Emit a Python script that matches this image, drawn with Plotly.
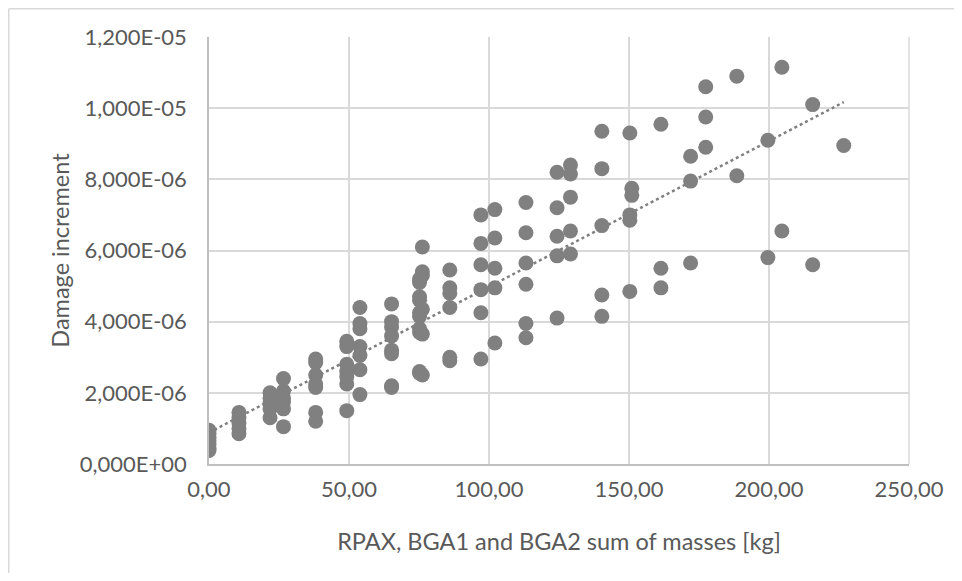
import numpy as np
import plotly.graph_objects as go

# Data (x: kg, y: damage increment in units of 1e-6)
col_x = [0.0, 10.7, 21.8, 26.6, 38.1, 49.2, 53.9, 65.2, 75.2, 76.2, 86.0, 97.1, 102.1,
         113.2, 124.3, 129.1, 140.3, 150.3, 151.0, 161.4, 172.0, 177.4, 188.5, 199.6,
         204.6, 215.6, 226.7]
col_y = [
    [0.95, 0.85, 0.75, 0.65, 0.55, 0.45, 0.38],
    [1.45, 1.3, 1.15, 1.0, 0.85],
    [2.0, 1.85, 1.7, 1.55, 1.3],
    [2.4, 2.05, 1.85, 1.75, 1.55, 1.05],
    [2.95, 2.85, 2.5, 2.25, 2.15, 1.45, 1.2],
    [3.45, 3.3, 2.8, 2.6, 2.45, 2.25, 1.5],
    [4.4, 3.95, 3.8, 3.3, 3.05, 2.65, 1.95],
    [4.5, 4.0, 3.85, 3.6, 3.2, 3.1, 2.2, 2.15],
    [5.2, 5.1, 4.7, 4.6, 4.25, 4.15, 3.8, 3.7, 2.6, 2.55],
    [6.1, 5.4, 5.3, 4.35, 3.65, 2.5],
    [5.45, 4.95, 4.8, 4.4, 3.0, 2.9],
    [7.0, 6.2, 5.6, 4.9, 4.25, 2.95],
    [7.15, 6.35, 5.5, 4.95, 3.4],
    [7.35, 6.5, 5.65, 5.05, 3.95, 3.55],
    [8.2, 7.2, 6.4, 5.85, 4.1],
    [8.4, 8.15, 7.5, 6.55, 5.9],
    [9.35, 8.3, 6.7, 4.75, 4.15],
    [9.3, 7.0, 6.85, 4.85],
    [7.75, 7.55],
    [9.55, 5.5, 4.95],
    [8.65, 7.95, 5.65],
    [10.6, 9.75, 8.9],
    [10.9, 8.1],
    [9.1, 5.8],
    [11.15, 6.55],
    [10.1, 5.6],
    [8.95],
]

y_tick_vals = [0, 2e-6, 4e-6, 6e-6, 8e-6, 1e-5, 1.2e-5]
y_tick_text = ["0,000E+00", "2,000E-06", "4,000E-06", "6,000E-06", "8,000E-06", "1,000E-05", "1,200E-05"]
x_tick_vals = [0, 50, 100, 150, 200, 250]
x_tick_text = ["0,00", "50,00", "100,00", "150,00", "200,00", "250,00"]

xs, ys = [], []
for cx, cys in zip(col_x, col_y):
    for v in cys:
        xs.append(cx)
        ys.append(v * 1e-6)
xs = np.array(xs)
ys = np.array(ys)

slope, intercept = np.polyfit(xs, ys, 1)
tx = np.array([xs.min(), xs.max()])
ty = slope * tx + intercept

FONT = "Lato, Open Sans, sans-serif"
GRAY = "#808080"
TXT = "#595959"

W, H = 946, 565
L, T = 201, 29
PW, PH = 700, 427

fig = go.Figure()
fig.add_trace(go.Scatter(x=xs, y=ys, mode="markers",
                         marker=dict(size=15, color=GRAY, line=dict(width=0)),
                         showlegend=False, hoverinfo="x+y"))
fig.add_trace(go.Scatter(x=tx, y=ty, mode="lines",
                         line=dict(color=GRAY, width=2.5, dash="dot"),
                         showlegend=False, hoverinfo="skip"))

bx = (0.75 - L) / PW
by = (T + PH - 0.75) / PH

fig.update_layout(
    width=W, height=H,
    margin=dict(l=L, r=W - L - PW, t=T, b=H - T - PH, autoexpand=False),
    paper_bgcolor="white", plot_bgcolor="white",
    font=dict(family=FONT, color=TXT, size=22),
    xaxis=dict(range=[0, 250], tickvals=x_tick_vals, ticktext=x_tick_text,
               showgrid=True, gridcolor="#d9d9d9", gridwidth=1.5,
               showline=True, linecolor="#bfbfbf", linewidth=1.5,
               zeroline=False, ticks="outside", ticklen=5, tickcolor="rgba(0,0,0,0)",
               automargin=False,
               tickfont=dict(size=22, color=TXT, family=FONT),
               title=dict(text="RPAX, BGA1 and BGA2 sum of masses [kg]", standoff=32,
                          font=dict(size=23.5, color=TXT, family=FONT))),
    yaxis=dict(range=[0, 1.2e-5], tickvals=y_tick_vals, ticktext=y_tick_text,
               showgrid=True, gridcolor="#d9d9d9", gridwidth=1.5,
               showline=True, linecolor="#bfbfbf", linewidth=1.5,
               zeroline=False, ticks="outside", ticklen=16, tickcolor="rgba(0,0,0,0)",
               automargin=False,
               tickfont=dict(size=22, color=TXT, family=FONT),
               title=dict(text="Damage increment", standoff=4,
                          font=dict(size=23.5, color=TXT, family=FONT))),
    shapes=[
        dict(type="line", xref="paper", yref="paper", x0=bx, x1=1.5,
             y0=by, y1=by, line=dict(color="#d9d9d9", width=1.5)),
        dict(type="line", xref="paper", yref="paper", x0=bx, x1=bx,
             y0=by, y1=-0.5, line=dict(color="#d9d9d9", width=1.5)),
        dict(type="line", xref="paper", yref="paper", x0=1, x1=1, y0=0, y1=1,
             line=dict(color="#d9d9d9", width=1.5)),
    ],
)

fig.write_html("out.html")
